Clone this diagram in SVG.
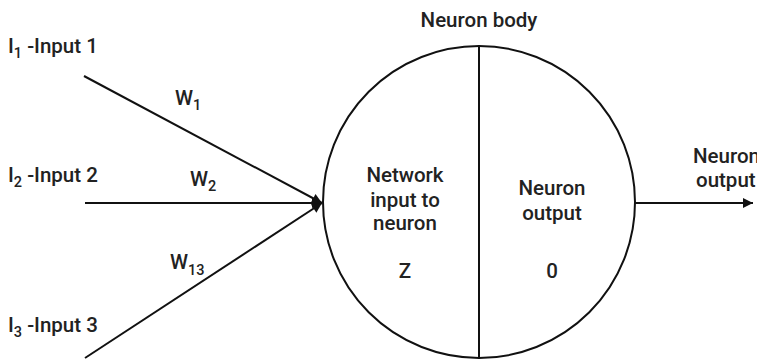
<svg xmlns="http://www.w3.org/2000/svg" width="757" height="362" viewBox="0 0 757 362">
<style>
.t{font-family:Roboto,"Liberation Sans",Arial,sans-serif;font-size:20.5px;font-weight:500;fill:#222}
.s{font-size:14.5px}
.m{text-anchor:middle}
.ln{stroke:#111;stroke-width:2;fill:none}
</style>
<defs>
<marker id="ah" viewBox="0 0 10 10" refX="10" refY="5" markerWidth="6.5" markerHeight="5" markerUnits="strokeWidth" orient="auto">
<path d="M0,0 L10,5 L0,10 z" fill="#111"/>
</marker>
</defs>
<rect width="757" height="362" fill="#fff"/>
<g id="input1"><text class="t" x="8" y="53">I<tspan class="s" dy="5">1</tspan><tspan dy="-5"> -Input 1</tspan></text></g>
<g id="input2"><text class="t" x="8" y="182">I<tspan class="s" dy="5">2</tspan><tspan dy="-5"> -Input 2</tspan></text></g>
<g id="input3"><text class="t" x="8" y="332">I<tspan class="s" dy="5">3</tspan><tspan dy="-5"> -Input 3</tspan></text></g>
<g id="neuron">
<text class="t m" x="479" y="27">Neuron body</text>
<circle class="ln" cx="479" cy="202" r="156"/>
<line class="ln" x1="479" y1="46" x2="479" y2="358"/>
<text class="t m" x="405" y="182">Network</text>
<text class="t m" x="405" y="207">input to</text>
<text class="t m" x="405" y="230">neuron</text>
<text class="t m" x="405" y="278">Z</text>
<text class="t m" x="552" y="195">Neuron</text>
<text class="t m" x="552" y="220">output</text>
<text class="t m" x="552" y="278">0</text>
</g>
<g id="output"><text class="t" x="693" y="163">Neuron</text><text class="t" x="696" y="187">output</text></g>
<g id="connectors">
<line class="ln" x1="84" y1="76" x2="322" y2="203" marker-end="url(#ah)"/>
<line class="ln" x1="85" y1="203" x2="322" y2="203" marker-end="url(#ah)"/>
<line class="ln" x1="85" y1="358" x2="322" y2="203" marker-end="url(#ah)"/>
<line class="ln" x1="635" y1="203" x2="753" y2="203" marker-end="url(#ah)"/>
<text class="t" x="175" y="105">W<tspan class="s" dy="5">1</tspan></text>
<text class="t" x="190" y="186">W<tspan class="s" dy="5">2</tspan></text>
<text class="t" x="170" y="269">W<tspan class="s" dy="6">13</tspan></text>
</g>
</svg>
